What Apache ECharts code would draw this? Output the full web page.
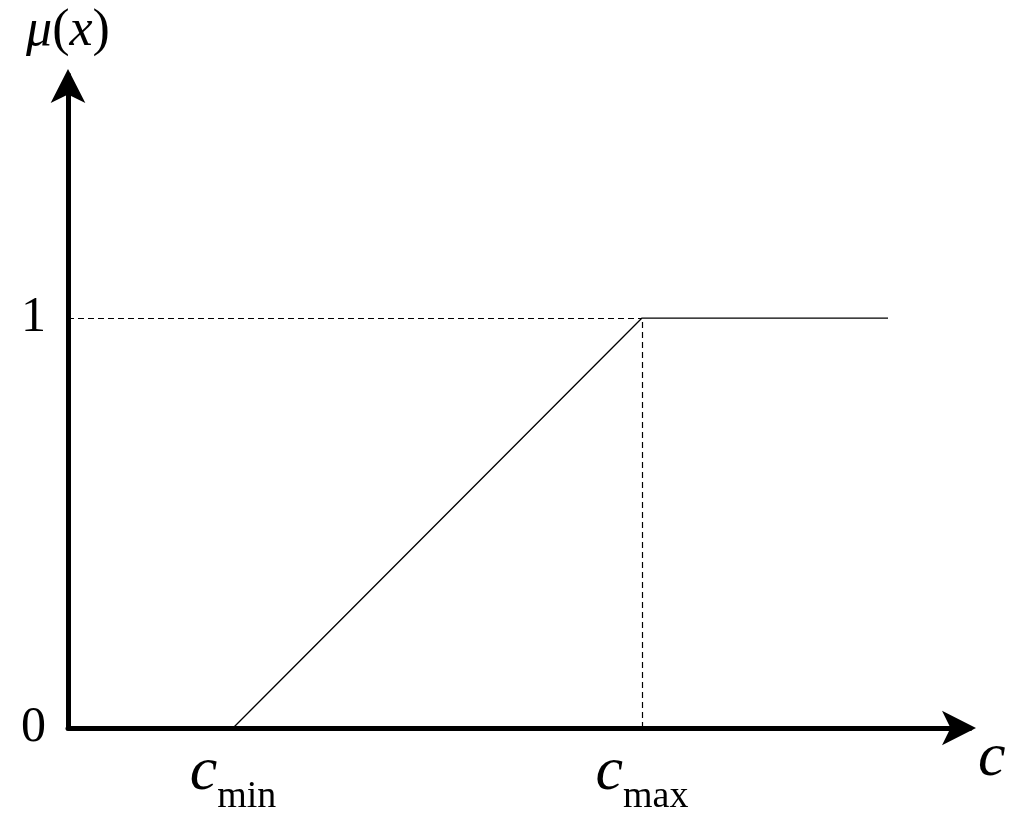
<!DOCTYPE html>
<html><head><meta charset="utf-8">
<script src="https://cdn.jsdelivr.net/npm/echarts@6/dist/echarts.min.js"></script>
<style>html,body{margin:0;padding:0;background:#fff}#c{width:1024px;height:830px}</style>
</head><body><div id="c"></div>
<script>
var xs = [165, 574, 820];
var ys = [0, 1, 1];
var xTicks = [165, 574];
var xTickLabels = ['min', 'max'];
var yTicks = [0, 1];
var F = 'Liberation Serif';
var chart = echarts.init(document.getElementById('c'));
chart.setOption({
  animation: false,
  grid: {left: 68, right: 54, top: 75, bottom: 102},
  xAxis: {type: 'value', min: 0, max: 902, splitLine: {show: false},
    axisLine: {lineStyle: {color: '#000', width: 5}, symbol: ['none', 'arrow'], symbolSize: [26, 34], symbolOffset: [0, 6]},
    axisTick: {show: false},
    axisLabel: {customValues: xTicks, margin: 14, fontFamily: F,
      formatter: function (v) { return '{c|c}{s|' + xTickLabels[xTicks.indexOf(v)] + '}'; },
      rich: {c: {fontFamily: F, fontStyle: 'italic', fontSize: 62, color: '#000', verticalAlign: 'bottom'},
             s: {fontFamily: F, fontSize: 38, color: '#000', verticalAlign: 'bottom', padding: [0, 0, -12, 0]}}}
  },
  yAxis: {type: 'value', min: 0, max: 1.593, splitLine: {show: false},
    name: '{m|μ}{p|(}{x|x}{p|)}', nameLocation: 'end', nameGap: 18,
    nameTextStyle: {align: 'center', rich: {
      m: {fontFamily: F, fontStyle: 'italic', fontSize: 52, color: '#000'},
      x: {fontFamily: F, fontStyle: 'italic', fontSize: 52, color: '#000'},
      p: {fontFamily: F, fontSize: 52, color: '#000'}}},
    axisLine: {lineStyle: {color: '#000', width: 5}, symbol: ['none', 'arrow'], symbolSize: [26, 34], symbolOffset: [0, 6]},
    axisTick: {show: false},
    axisLabel: {customValues: yTicks, margin: 22, fontFamily: F, fontSize: 50, color: '#000'}
  },
  series: [{type: 'line', data: xs.map(function (x, i) { return [x, ys[i]]; }),
    symbol: 'none', lineStyle: {color: '#000', width: 1.3},
    markLine: {silent: true, symbol: 'none', label: {show: false},
      lineStyle: {color: '#000', type: [6, 4], width: 1.2},
      data: [[{coord: [0, ys[1]]}, {coord: [xs[1], ys[1]]}],
             [{coord: [xs[1], 0]}, {coord: [xs[1], ys[1]]}]]}}],
  graphic: [{type: 'text', left: 978, top: 728, style: {text: 'c', fontFamily: F, fontStyle: 'italic', fontSize: 62, fill: '#000'}}]
});
</script></body></html>
